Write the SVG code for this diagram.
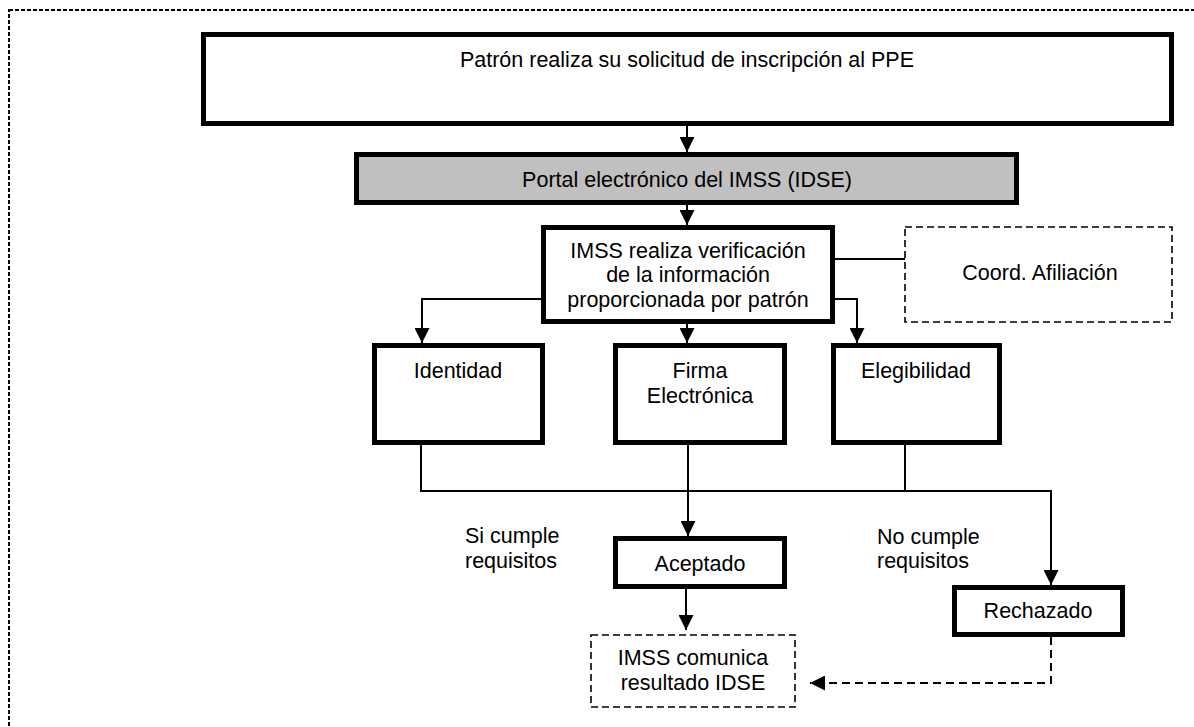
<svg xmlns="http://www.w3.org/2000/svg" width="1194" height="727" viewBox="0 0 1194 727">
<style>
text{font-family:"Liberation Sans",Arial,sans-serif;font-size:21.5px;fill:#000}
.c{text-anchor:middle}
.n{fill:#fff;stroke:#000;stroke-width:5}
.g{fill:#c0c0c0;stroke:#000;stroke-width:5}
.d{fill:#fff;stroke:#000;stroke-width:1.6;stroke-dasharray:7 4}
.l{fill:none;stroke:#000;stroke-width:2}
.ld{fill:none;stroke:#000;stroke-width:2;stroke-dasharray:8 5}
</style>
<defs>
<marker id="a" viewBox="0 0 10 10" refX="10" refY="5" markerWidth="15" markerHeight="15" markerUnits="userSpaceOnUse" orient="auto">
<path d="M0,0L10,5L0,10z" fill="#000"/>
</marker>
</defs>
<rect x="9" y="10" width="1200" height="730" fill="none" stroke="#000" stroke-width="2" stroke-dasharray="4 2"/>
<g id="connectors">
<path class="l" d="M687,126V152" marker-end="url(#a)"/>
<path class="l" d="M687,205V225" marker-end="url(#a)"/>
<path class="l" d="M687,324V343" marker-end="url(#a)"/>
<path class="l" d="M541,299H422V343" marker-end="url(#a)"/>
<path class="l" d="M835,299H857V343" marker-end="url(#a)"/>
<path class="l" d="M835,259H905"/>
<path class="l" d="M421,445V491H1051V585" marker-end="url(#a)"/>
<path class="l" d="M905,445V491"/>
<path class="l" d="M688,445V536" marker-end="url(#a)"/>
<path class="l" d="M686,582V630" marker-end="url(#a)"/>
<path class="ld" d="M1051,637V683H810" marker-end="url(#a)"/>
</g>
<g id="n1"><rect class="n" x="203.5" y="34.5" width="968" height="89"/><text class="c" x="687" y="67">Patrón realiza su solicitud de inscripción al PPE</text></g>
<g id="n2"><rect class="g" x="356.5" y="154.5" width="660" height="48"/><text class="c" x="687" y="187">Portal electrónico del IMSS (IDSE)</text></g>
<g id="n3"><rect class="n" x="543.5" y="227.5" width="289" height="94"/><text class="c" x="688" y="258">IMSS realiza verificación</text><text class="c" x="688" y="282">de la información</text><text class="c" x="688" y="307">proporcionada por patrón</text></g>
<g id="n4"><rect class="d" x="905" y="227" width="267" height="95"/><text class="c" x="1040" y="280">Coord. Afiliación</text></g>
<g id="n5"><rect class="n" x="374.5" y="345.5" width="168" height="97"/><text class="c" x="458" y="378">Identidad</text></g>
<g id="n6"><rect class="n" x="615.5" y="345.5" width="169" height="97"/><text class="c" x="700" y="378">Firma</text><text class="c" x="700" y="403">Electrónica</text></g>
<g id="n7"><rect class="n" x="833.5" y="345.5" width="166" height="97"/><text class="c" x="916" y="378">Elegibilidad</text></g>
<g id="l1"><text x="465" y="543">Si cumple</text><text x="465" y="568">requisitos</text></g>
<g id="l2"><text x="877" y="544">No cumple</text><text x="877" y="568">requisitos</text></g>
<g id="n8"><rect class="n" x="615.5" y="538.5" width="169" height="48"/><text class="c" x="700" y="571">Aceptado</text></g>
<g id="n9"><rect class="n" x="954.5" y="587.5" width="168" height="47"/><text class="c" x="1038" y="618">Rechazado</text></g>
<g id="n10"><rect class="d" x="591" y="635" width="204" height="72"/><text class="c" x="693" y="665">IMSS comunica</text><text class="c" x="693" y="690">resultado IDSE</text></g>
</svg>
